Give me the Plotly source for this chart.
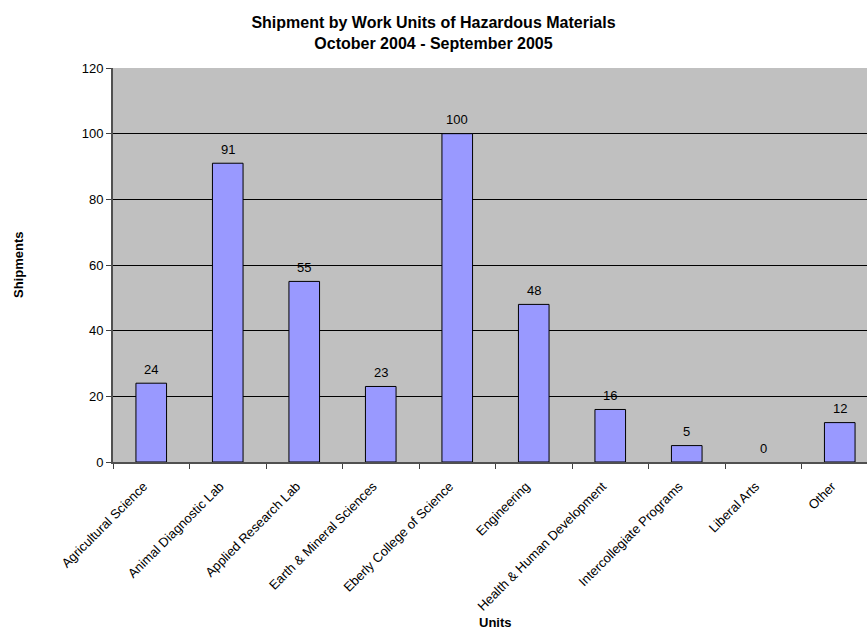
import plotly.graph_objects as go

categories = ["Agricultural Science", "Animal Diagnostic Lab", "Applied Research Lab",
              "Earth & Mineral Sciences", "Eberly College of Science", "Engineering",
              "Health & Human Development", "Intercollegiate Programs", "Liberal Arts", "Other"]
shipments = [24, 91, 55, 23, 100, 48, 16, 5, 0, 12]

W, H = 867, 629
L, T, B = 113, 68, 167
cat_w = 76.5
vis = (W - L) / cat_w  # visible categories (plot area clipped at right edge)

fig = go.Figure(go.Bar(
    x=categories, y=shipments, width=0.4,
    marker=dict(color="#9999FF",
                line=dict(color="black", width=[1 if v > 0 else 0 for v in shipments])),
))
for c, v in zip(categories, shipments):
    fig.add_annotation(x=c, y=v, text=str(v), showarrow=False, yshift=14,
                       xanchor="center", yanchor="middle",
                       font=dict(size=13, color="black"))

fig.update_layout(
    width=W, height=H,
    margin=dict(l=L, r=0, t=T, b=B),
    paper_bgcolor="white", plot_bgcolor="#C0C0C0",
    font=dict(family="Arial, Liberation Sans", size=13, color="black"),
    title=dict(text="<b>Shipment by Work Units of Hazardous Materials<br>October 2004 - September 2005</b>",
               x=0.5, xanchor="center", y=1 - 28/H, yanchor="middle",
               font=dict(size=16)),
    showlegend=False,
)
fig.update_xaxes(
    range=[-0.5, -0.5 + vis], tickangle=-45, ticks="outside", tickson="boundaries",
    ticklen=5, tickcolor="#404040", showline=True, linecolor="#505050", linewidth=2,
    showgrid=False, tickfont=dict(size=13, color="black"), ticklabelstandoff=2,
    tickmode="array", tickvals=categories,
    ticktext=[c + "\u00a0\u00a0\u00a0" for c in categories],
)
fig.update_yaxes(
    range=[0, 120], dtick=20, ticks="outside", ticklen=5, tickcolor="#404040",
    showline=True, linecolor="#505050", linewidth=2,
    showgrid=True, gridcolor="black", gridwidth=1, zeroline=False,
    tickfont=dict(size=13, color="black"),
)
fig.add_annotation(text="<b>Shipments</b>", xref="paper", yref="paper", x=0, y=0.5,
                   xshift=18 - L, textangle=-90, showarrow=False, font=dict(size=13),
                   xanchor="center", yanchor="middle")
fig.add_annotation(text="<b>Units</b>", xref="paper", yref="paper",
                   x=(10 * cat_w / 2) / (W - L), y=0, yshift=-(622 - (H - B)),
                   showarrow=False, font=dict(size=13), xanchor="center", yanchor="middle")

fig.write_html("out.html")
